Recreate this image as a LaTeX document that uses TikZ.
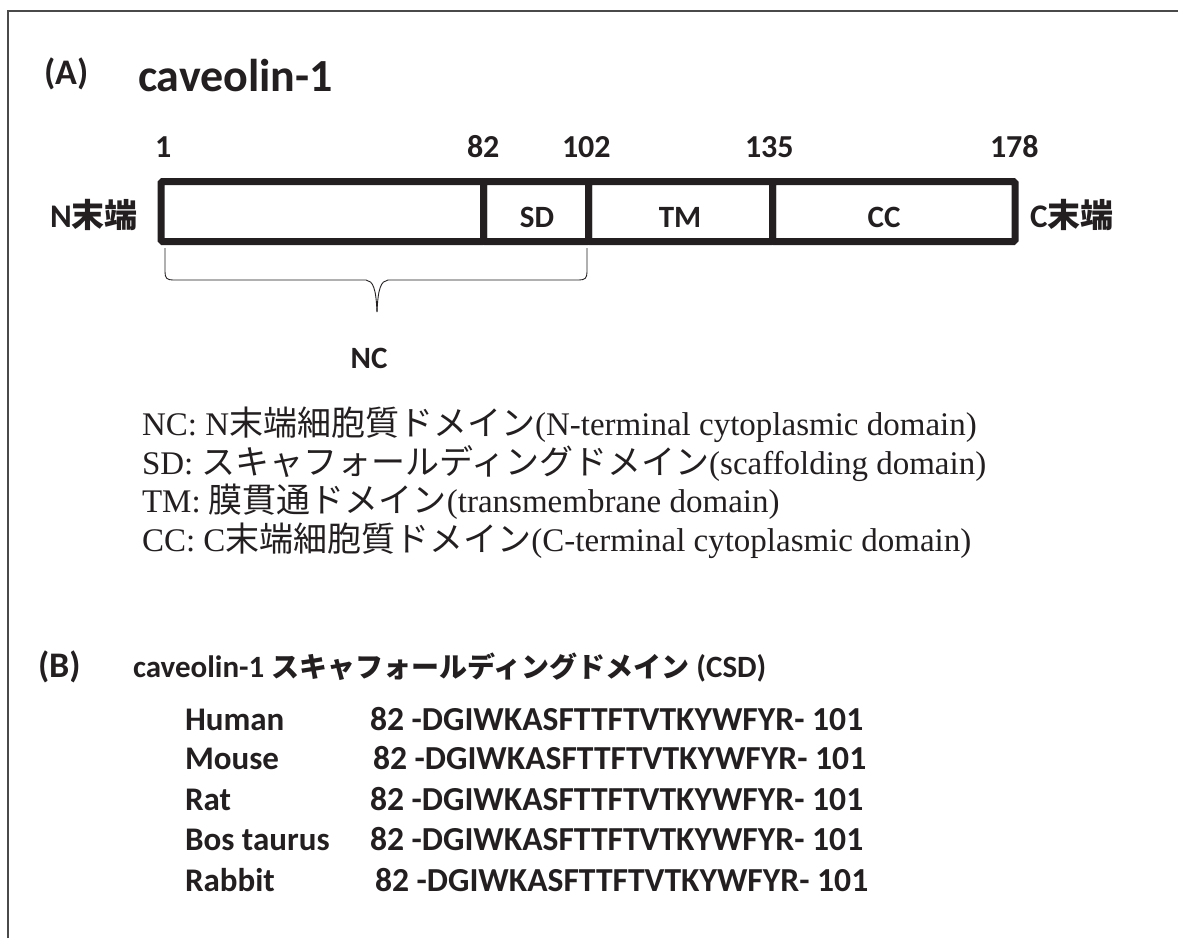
\documentclass[tikz,border=0pt]{standalone}
\usepackage{fontspec}
\setmainfont{Carlito}
\newfontfamily\jpfont{Noto Sans CJK JP}
\newfontfamily\serifrm{Liberation Serif}
\newcommand{\fs}[1]{\fontsize{#1}{#1}\selectfont}
\newcommand{\jb}[1]{{\jpfont\bfseries #1}}
\newcommand{\jr}[1]{{\jpfont\fs{34}#1}}
\definecolor{ink}{HTML}{231F20}
\definecolor{framegray}{HTML}{4A4A4A}

\begin{document}
\begin{tikzpicture}[x=1pt,y=-1pt,
  lbl/.style={inner sep=0pt, outer sep=0pt, text=ink, font=\bfseries},
  deftext/.style={inner sep=0pt, outer sep=0pt, text=ink, font=\serifrm\fs{33}},
  seg/.style={draw=ink, line width=7pt, minimum height=60pt, inner sep=0pt,
              outer sep=0pt, rounded corners=1.5pt, anchor=west},
  bracepath/.style={draw=ink, line width=0.9pt}]
\useasboundingbox (0,0) rectangle (1178,938);

% frame (open at the bottom and right)
\draw[framegray, line width=2pt] (8,938) -- (8,11) -- (1178,11);

% ---- (A) ----
\node[lbl, anchor=base west] (labA) at (44,84) {\fs{36}(A)};
\node[lbl, anchor=base west] (title) at (138,91) {\fs{46}caveolin-1};

% residue numbers
\node[lbl, anchor=base west] (n1)   at (155,157) {\fs{32}1};
\node[lbl, anchor=base west] (n82)  at (467,157) {\fs{32}82};
\node[lbl, anchor=base west] (n102) at (562,157) {\fs{32}102};
\node[lbl, anchor=base west] (n135) at (745,157) {\fs{32}135};
\node[lbl, anchor=base west] (n178) at (990,157) {\fs{32}178};

% domain bar
\node[seg, minimum width=322.5pt] (ncseg) at (161,211.5) {};
\node[seg, minimum width=105pt]   (sdseg) at (483.5,211.5) {};
\node[seg, minimum width=184pt]   (tmseg) at (588.5,211.5) {};
\node[seg, minimum width=242.5pt] (ccseg) at (772.5,211.5) {};

\node[lbl] (sdlab) at (537,217) {\fs{31}SD};
\node[lbl] (tmlab) at (680,217) {\fs{31}TM};
\node[lbl] (cclab) at (884,217) {\fs{31}CC};

\node[lbl, anchor=west] (nterm) at (50,215) {\fs{33}N\jb{末端}};
\node[lbl, anchor=west] (cterm) at (1030,215) {\fs{33}C\jb{末端}};

% brace under the N-terminal part
\coordinate (bl) at (165,248);
\coordinate (br) at (587,248);
\coordinate (bt) at (377,312);
\draw[bracepath] (bl) -- (165,272) .. controls (165,278) and (167,280) .. (173,280)
  -- (366,280) .. controls (373,281) and (376,288) .. (bt);
\draw[bracepath] (br) -- (587,272) .. controls (587,278) and (585,280) .. (579,280)
  -- (388,280) .. controls (381,281) and (378,288) .. (bt);

\node[lbl] (nclab) at (369,358) {\fs{31}NC};

% legend
\node[deftext, anchor=base west] (d1) at (142,435) {NC: N\jr{末端細胞質ドメイン}(N-terminal cytoplasmic domain)};
\node[deftext, anchor=base west] (d2) at (142,474) {SD: \jr{スキャフォールディングドメイン}(scaffolding domain)};
\node[deftext, anchor=base west] (d3) at (142,512) {TM: \jr{膜貫通ドメイン}(transmembrane domain)};
\node[deftext, anchor=base west] (d4) at (142,551) {CC: C\jr{末端細胞質ドメイン}(C-terminal cytoplasmic domain)};

% ---- (B) ----
\node[lbl, anchor=base west] (labB) at (38,677) {\fs{36}(B)};
\node[lbl, anchor=base west] (titleB) at (133,677)
  {\fs{31}caveolin-1 {\jpfont\bfseries\fs{28}スキャフォールディングドメイン} (CSD)};

\foreach \nm/\sx/\yy [count=\i] in
  {Human/370/730, Mouse/373/769, Rat/370/810,
   Bos taurus/370/850, Rabbit/375/891}{
  \node[lbl, anchor=base west] (sp\i) at (185,\yy) {\fs{33}\nm};
  \node[lbl, anchor=base west] (seq\i) at (\sx,\yy) {\fs{33.6}82 -DGIWKASFTTFTVTKYWFYR- 101};
}
\end{tikzpicture}
\end{document}
